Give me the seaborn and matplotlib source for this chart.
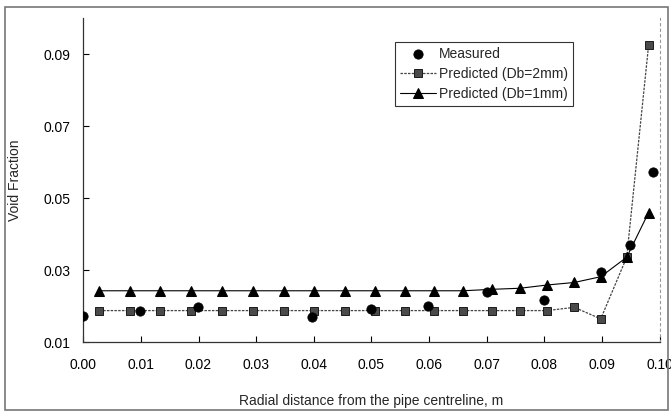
import numpy as np
import pandas as pd
import matplotlib
matplotlib.use("Agg")
import matplotlib.pyplot as plt
import seaborn as sns
from matplotlib.patches import Rectangle

# Measured void fraction
meas_x = [0.0, 0.0099, 0.0199, 0.0397, 0.0499, 0.0599, 0.0700, 0.0800, 0.0899, 0.0948, 0.0989]
meas_y = [0.0173, 0.0188, 0.0197, 0.0171, 0.0192, 0.0202, 0.0239, 0.0216, 0.0294, 0.0370, 0.0572]

# Predicted positions (shared by both bubble sizes)
pred_x = [0.0028, 0.0081, 0.0134, 0.0187, 0.0241, 0.0295, 0.0348, 0.0401, 0.0454, 0.0506,
          0.0558, 0.0609, 0.0659, 0.0709, 0.0758, 0.0805, 0.0852, 0.0898, 0.0943, 0.0981]
pred_2mm = [0.0188, 0.0188, 0.0188, 0.0188, 0.0188, 0.0188, 0.0188, 0.0188, 0.0188, 0.0188,
            0.0188, 0.0188, 0.0188, 0.0188, 0.0188, 0.0188, 0.0197, 0.0165, 0.0336, 0.0924]
pred_1mm = [0.0243, 0.0243, 0.0243, 0.0243, 0.0243, 0.0243, 0.0243, 0.0243, 0.0243, 0.0243,
            0.0243, 0.0243, 0.0243, 0.0247, 0.0250, 0.0259, 0.0266, 0.0282, 0.0336, 0.0460]

xticks = [0.00, 0.01, 0.02, 0.03, 0.04, 0.05, 0.06, 0.07, 0.08, 0.09, 0.10]
yticks = [0.01, 0.03, 0.05, 0.07, 0.09]

sns.set_style("ticks")
plt.rcParams['font.family'] = ['Liberation Sans', 'DejaVu Sans']

fig = plt.figure(figsize=(6.71, 4.13), dpi=100)
ax = fig.add_axes([0.1241, 0.1712, 0.9829 - 0.1241, 0.9564 - 0.1712])

# Chart area border
fig.patches.append(Rectangle((5 / 671, 3 / 413), 663 / 671, 403 / 413, transform=fig.transFigure,
                             fill=False, edgecolor='#777777', linewidth=1.2))

sns.lineplot(x=pred_x, y=pred_2mm, ax=ax, color='#444444', linestyle=(0, (2, 1)), linewidth=0.9,
             marker='s', markersize=6, markerfacecolor='#4a4a4a', markeredgecolor='#1a1a1a',
             markeredgewidth=0.7, label='Predicted (Db=2mm)', sort=False)
sns.lineplot(x=pred_x, y=pred_1mm, ax=ax, color='black', linewidth=0.8,
             marker='^', markersize=6.5, markerfacecolor='black', markeredgecolor='black',
             label='Predicted (Db=1mm)', sort=False)
sns.scatterplot(x=meas_x, y=meas_y, ax=ax, color='black', s=45, edgecolor='black',
                label='Measured', zorder=5)

ax.set_xlim(0, 0.10)
ax.set_ylim(0.01, 0.10)
ax.set_xticks(xticks)
ax.set_yticks(yticks)
ax.xaxis.set_major_formatter(matplotlib.ticker.FormatStrFormatter('%.2f'))
ax.yaxis.set_major_formatter(matplotlib.ticker.FormatStrFormatter('%.2f'))
ax.tick_params(axis='both', direction='in', length=4, width=0.8, labelsize=10, colors='black')
ax.tick_params(axis='x', pad=11)
ax.tick_params(axis='y', pad=9)

ax.spines['top'].set_visible(False)
ax.spines['right'].set_linestyle((0, (2, 3)))
ax.spines['right'].set_color('#999999')
ax.spines['right'].set_linewidth(0.8)
for s in ['left', 'bottom']:
    ax.spines[s].set_color('#333333')
    ax.spines[s].set_linewidth(0.9)

ax.set_xlabel('Radial distance from the pipe centreline, m', fontsize=10, labelpad=16)
ax.set_ylabel('Void Fraction', fontsize=10, labelpad=16)

handles, labels = ax.get_legend_handles_labels()
order = [labels.index('Measured'), labels.index('Predicted (Db=2mm)'), labels.index('Predicted (Db=1mm)')]
leg = ax.legend([handles[i] for i in order], [labels[i] for i in order],
                loc='upper left', bbox_to_anchor=(0.541, 0.927), borderaxespad=0,
                fontsize=10, frameon=True, fancybox=False, edgecolor='black',
                handlelength=2.6, handletextpad=0.2, labelspacing=0.45, borderpad=0.35)
leg.get_frame().set_linewidth(0.8)

fig.savefig('out.png', dpi=100)
